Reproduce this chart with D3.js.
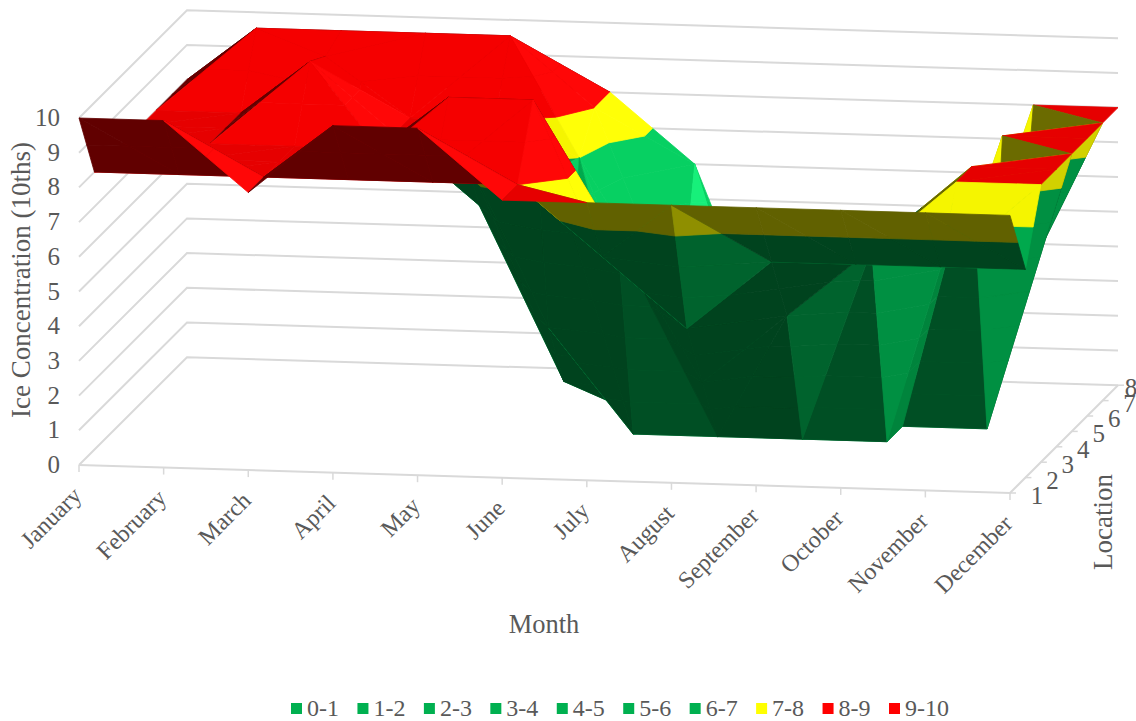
<!DOCTYPE html>
<html>
<head>
<meta charset="utf-8">
<script src="https://cdn.jsdelivr.net/npm/d3@7"></script>
<style>
  html, body { margin: 0; background: #fff; }
  text { font-family: "Liberation Serif", serif; fill: #595959; }
</style>
</head>
<body>
<svg id="chart" width="1136" height="721"></svg>
<script>
const months = ['January', 'February', 'March', 'April', 'May', 'June', 'July', 'August', 'September', 'October', 'November', 'December'];
const locations = ['1', '2', '3', '4', '5', '6', '7', '8'];
const concentrationTicks = [0, 1, 2, 3, 4, 5, 6, 7, 8, 9, 10];
const bandLabels = ['0-1', '1-2', '2-3', '3-4', '4-5', '5-6', '6-7', '7-8', '8-9', '9-10'];
const bandColors = ['#00b050', '#00b050', '#00b050', '#00b050', '#00b050', '#00b050', '#00b050', '#ffff00', '#ff0000', '#ff0000'];

// ice concentration per month, one list per location
const location1 = [10, 10, 8, 10, 10, 8, 8, 8, 8, 8, 8, 8];
const location2 = [8, 8, 8, 8, 8, 8, 6, 4, 6, 6, 6, 6];
const location3 = [8, 8, 8, 8, 10, 10, 6, 2, 4, 6, 8, 8];
const location4 = [8, 8, 8, 8, 8, 3, 0, 0, 0, 0, 8, 8];
const location5 = [8, 8, 10, 8, 6, 1, 0, 0, 0, 0, 0, 8];
const location6 = [8, 8, 9.7, 8, 8, 7, 1, 0, 0, 0, 8, 8];
const location7 = [8, 10, 10, 10, 10, 8, 2, 0, 0, 0, 3, 8];
const location8 = [8, 8, 8, 8, 8, 8, 6, 0, 0, 0, 8, 8];
const ice = [location1, location2, location3, location4, location5, location6, location7, location8];

const svg = d3.select('#chart');

// oblique projection: each axis contributes its own screen offset
const monthX = d3.scaleLinear().domain([0, 11]).range([79, 1010]);
const monthY = d3.scaleLinear().domain([0, 11]).range([465, 493]);
const locX = d3.scaleLinear().domain([0, 7]).range([0, 108]);
const locY = d3.scaleLinear().domain([0, 7]).range([0, -107.8]);
const valueY = d3.scaleLinear().domain([0, 10]).range([0, -347]);

function project(m, l, v) {
  return [monthX(m) + locX(l), monthY(m) + locY(l) + valueY(v)];
}

const pathOf = pts => 'M' + pts.map(p => p[0].toFixed(2) + ',' + p[1].toFixed(2)).join('L') + 'Z';

// walls and floor
const grid = svg.append('g').attr('fill', 'none').attr('stroke', '#d9d9d9').attr('stroke-width', 2);
for (const t of concentrationTicks) {
  grid.append('path').attr('d', 'M' + [project(0, 0, t), project(0, 7, t), project(11, 7, t)].join('L'));
}
grid.append('path').attr('d', 'M' + [project(0, 0, 0), project(11, 0, 0), project(11, 7, 0)].join('L'));
months.forEach((d, i) => {
  const p = project(i, 0, 0);
  grid.append('line').attr('x1', p[0]).attr('y1', p[1]).attr('x2', p[0]).attr('y2', p[1] + 7).attr('stroke-width', 1.5);
});
locations.forEach((d, i) => {
  const p = project(11, i, 0);
  grid.append('line').attr('x1', p[0]).attr('y1', p[1]).attr('x2', p[0] + 6).attr('y2', p[1]).attr('stroke-width', 1.5);
});

// light falls from the high-month side, undersides only pick up a little of it
function brightness(a, b) {
  const facesUp = 538 * a - 2936 * b < 1342;
  if (!facesUp) {
    const steep = Math.abs(b) >= 3 || a >= 5;
    return 0.38 + (steep ? Math.min(0.37, 0.09 * Math.max(a, 0)) : 0) + (Math.abs(b) >= 5 && a >= 0 ? 0.07 : 0);
  }
  if (a < -1.8) {
    return b >= 4 && a > -3 ? 1.23 : 1.14;
  }
  if (a <= 0) {
    return a == 0 && b == 0 ? 0.9 : 0.96;
  }
  if (a > 3) {
    return 0.42;
  }
  return 0.4 + 0.5 * Math.max(0, Math.min(1.12, 1 - 0.6 * a + 0.65 * b));
}

function litColor(base, k) {
  const c = d3.rgb(base);
  const white = Math.max(0, k - 1.1) * 180;
  return d3.rgb(
    Math.min(255, c.r * k + white),
    Math.min(255, c.g * k + white),
    Math.min(255, c.b * k + white)
  ).formatHex();
}

// keep the part of a triangle that lies between two heights
function clipBand(tri, lo, hi) {
  const clip = (pts, keep, level) => {
    const out = [];
    pts.forEach((p, i) => {
      const q = pts[(i + 1) % pts.length];
      if (keep(p[2])) {
        out.push(p);
      }
      if (keep(p[2]) != keep(q[2])) {
        const t = (level - p[2]) / (q[2] - p[2]);
        out.push([p[0] + t * (q[0] - p[0]), p[1] + t * (q[1] - p[1]), level]);
      }
    });
    return out;
  };
  let pts = clip(tri, v => v >= lo, lo);
  if (pts.length > 0) {
    pts = clip(pts, v => v <= hi, hi);
  }
  return pts;
}

const surface = svg.append('g').attr('stroke-width', 0.8).attr('stroke-linejoin', 'round');

function drawTriangle(tri) {
  const [p, q, r] = tri;
  // plane v = a*m + b*l + c through the three corners
  const det = (q[0] - p[0]) * (r[1] - p[1]) - (r[0] - p[0]) * (q[1] - p[1]);
  const a = ((q[2] - p[2]) * (r[1] - p[1]) - (r[2] - p[2]) * (q[1] - p[1])) / det;
  const b = ((q[0] - p[0]) * (r[2] - p[2]) - (r[0] - p[0]) * (q[2] - p[2])) / det;
  const k = brightness(a, b);
  const flat = a == 0 && b == 0;

  bandColors.forEach((color, band) => {
    if (flat && Math.min(Math.floor(p[2]), 9) != band) {
      return;
    }
    const pts = flat ? tri : clipBand(tri, band, band + 1);
    if (pts.length < 3) {
      return;
    }
    const outline = pts.map(d => project(d[0], d[1], d[2]));
    // contours that only touch a corner or an edge leave nothing to fill
    if (Math.abs(d3.polygonArea(outline)) < 0.01) {
      return;
    }
    const shade = litColor(color, flat && band == 9 ? 0.96 : k);
    surface.append('path')
      .attr('d', pathOf(outline))
      .attr('fill', shade)
      .attr('stroke', shade);
  });
}

// far rows first, so nearer facets paint over what they hide
for (let l = locations.length - 2; l >= 0; l--) {
  for (let m = 0; m < months.length - 1; m++) {
    const p00 = [m, l, ice[l][m]];
    const p10 = [m + 1, l, ice[l][m + 1]];
    const p01 = [m, l + 1, ice[l + 1][m]];
    const p11 = [m + 1, l + 1, ice[l + 1][m + 1]];
    // the quad folds along its higher diagonal
    const tris = p00[2] + p11[2] >= p10[2] + p01[2]
      ? [[p00, p01, p11], [p00, p10, p11]]
      : [[p01, p00, p10], [p01, p11, p10]];
    const depth = t => d3.mean(t, d => d[1] - 0.183 * d[0]);
    tris.sort((s, t) => depth(t) - depth(s));
    tris.forEach(drawTriangle);
  }
}

// value labels
svg.append('g').selectAll('text')
  .data(concentrationTicks)
  .join('text')
  .attr('x', 60)
  .attr('y', d => project(0, 0, d)[1] + 8)
  .attr('text-anchor', 'end')
  .attr('font-size', 25)
  .text(d => d);

// month labels
svg.append('g').selectAll('text')
  .data(months)
  .join('text')
  .attr('text-anchor', 'end')
  .attr('font-size', 24)
  .attr('transform', (d, i) => {
    const p = project(i, 0, 0);
    return 'translate(' + (p[0] + 4) + ',' + (p[1] + 32) + ') rotate(-45)';
  })
  .text(d => d);

// location labels, the last one is squeezed against the edge of the chart
svg.append('g').selectAll('text')
  .data(locations)
  .join('text')
  .attr('x', (d, i) => Math.min(project(11, i, 0)[0] + 27, 1131))
  .attr('y', (d, i) => project(11, i, 0)[1] + 11)
  .attr('text-anchor', 'middle')
  .attr('font-size', 25)
  .text(d => d);

// axis titles
svg.append('text')
  .attr('transform', 'translate(30,280) rotate(-90)')
  .attr('text-anchor', 'middle')
  .attr('font-size', 27)
  .text('Ice Concentration (10ths)');
svg.append('text')
  .attr('x', 544)
  .attr('y', 633)
  .attr('text-anchor', 'middle')
  .attr('font-size', 26.5)
  .text('Month');
svg.append('text')
  .attr('transform', 'translate(1112,522) rotate(-90)')
  .attr('text-anchor', 'middle')
  .attr('font-size', 27)
  .text('Location');

// legend
const legendX = d3.scalePoint().domain(bandLabels).range([291, 889]);
const legend = svg.append('g').selectAll('g')
  .data(bandLabels)
  .join('g')
  .attr('transform', d => 'translate(' + legendX(d) + ',703)');
legend.append('rect')
  .attr('width', 11)
  .attr('height', 11)
  .attr('fill', (d, i) => bandColors[i]);
legend.append('text')
  .attr('x', 16)
  .attr('y', 13)
  .attr('font-size', 24)
  .text(d => d);
</script>
</body>
</html>
